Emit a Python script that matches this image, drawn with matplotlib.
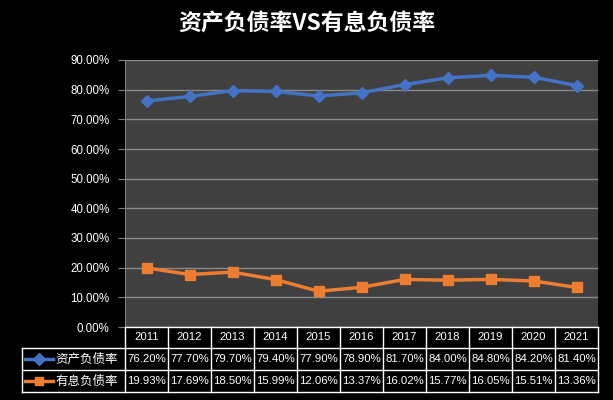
import numpy as np
import matplotlib.pyplot as plt

plt.rcParams['font.family'] = ['Noto Sans CJK SC', 'DejaVu Sans']

# data
years = ['2011', '2012', '2013', '2014', '2015', '2016', '2017', '2018', '2019', '2020', '2021']
asset_ratio = [76.20, 77.70, 79.70, 79.40, 77.90, 78.90, 81.70, 84.00, 84.80, 84.20, 81.40]
debt_ratio = [19.93, 17.69, 18.50, 15.99, 12.06, 13.37, 16.02, 15.77, 16.05, 15.51, 13.36]
series_names = ['资产负债率', '有息负债率']
title = '资产负债率VS有息负债率'

W, H = 613, 400
blue = '#4472C4'
orange = '#ED7D31'
num_font = 'Liberation Sans'

fig = plt.figure(figsize=(W / 100, H / 100), dpi=100, facecolor='black')

# plot area in pixels
left, right, top, bottom = 125, 598, 60, 327
ax = fig.add_axes([left / W, 1 - bottom / H, (right - left) / W, (bottom - top) / H])
ax.set_facecolor('#404040')

n = len(years)
xs = np.arange(n) + 0.5
ax.plot(xs, asset_ratio, color=blue, lw=2.5, marker='D', ms=6.5, zorder=3)
ax.plot(xs, debt_ratio, color=orange, lw=2.5, marker='s', ms=7, zorder=3)

ax.set_xlim(0, n)
ax.set_ylim(0, 90)
ax.set_yticks(np.arange(0, 91, 10))
ax.set_yticklabels(['%.2f%%' % v for v in np.arange(0, 91, 10)], color='white', fontsize=8.3,
                   family=num_font)
ax.tick_params(axis='y', length=5, color='#808080', pad=6)
ax.set_xticks([])
ax.grid(axis='y', color='#8a8a8a', lw=1)
ax.set_axisbelow(True)
for s in ['top', 'right', 'bottom']:
    ax.spines[s].set_visible(False)
ax.spines['left'].set_color('#808080')

fig.text(0.5, 1 - 23 / H, title, color='white', fontsize=16.5, fontweight='bold',
         ha='center', va='center')

# data table below the plot
tb = fig.add_axes([0, 0, 1, 1])
tb.set_xlim(0, W)
tb.set_ylim(H, 0)
tb.axis('off')
tb.patch.set_alpha(0)

label_left = 22
rows_y = [bottom, 348, 370, 392]
colw = (right - left) / n
lc = 'white'
lw = 1.0
# horizontal lines
tb.plot([left, right], [rows_y[0], rows_y[0]], color=lc, lw=lw)
for y in rows_y[1:]:
    tb.plot([label_left, right], [y, y], color=lc, lw=lw)
# vertical lines
for k in range(n + 1):
    x = left + k * colw
    tb.plot([x, x], [rows_y[0], rows_y[-1]], color=lc, lw=lw)
tb.plot([label_left, label_left], [rows_y[1], rows_y[-1]], color=lc, lw=lw)

fs = 8.2
for k, yr in enumerate(years):
    cx = left + (k + 0.5) * colw
    tb.text(cx, (rows_y[0] + rows_y[1]) / 2, yr, color='white', fontsize=fs,
            ha='center', va='center', family=num_font)

for r, (vals, col, mk, name) in enumerate(zip([asset_ratio, debt_ratio], [blue, orange],
                                              ['D', 's'], series_names)):
    cy = (rows_y[r + 1] + rows_y[r + 2]) / 2
    tb.plot([25, 53], [cy, cy], color=col, lw=2.5)
    tb.plot([39], [cy], color=col, marker=mk, ms=6)
    tb.text(55, cy, name, color='white', fontsize=9, ha='left', va='center')
    for k, v in enumerate(vals):
        cx = left + (k + 0.5) * colw
        tb.text(cx, cy, '%.2f%%' % v, color='white', fontsize=fs, ha='center',
                va='center', family=num_font)

plt.savefig('out.png', dpi=100, facecolor='black')
plt.close()
